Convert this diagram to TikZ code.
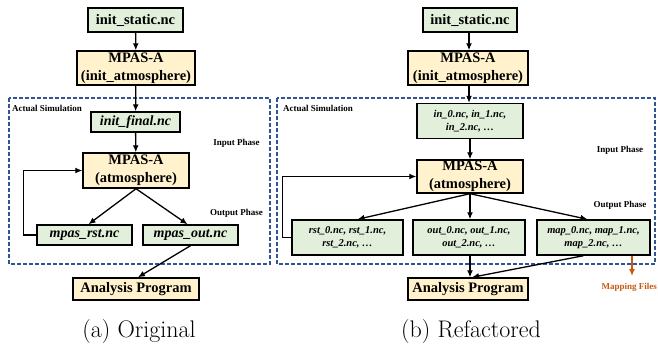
\documentclass[tikz,border=0pt]{standalone}
\usepackage{fontspec}
\newfontfamily\tnr{Liberation Serif}
\usetikzlibrary{arrows.meta,calc}
\definecolor{boxgreen}{HTML}{E2EFDA}
\definecolor{boxyellow}{HTML}{FFF2CC}
\definecolor{dashblue}{HTML}{2F5597}
\definecolor{maporange}{HTML}{C55A11}
\begin{document}
\begin{tikzpicture}[x=1pt,y=-1pt,
 box/.style={draw=black, line width=1.4pt, inner sep=0pt, align=center, font=\tnr\bfseries\fontsize{14.5}{18}\selectfont},
 gbox/.style={box, fill=boxgreen},
 ybox/.style={box, fill=boxyellow},
 fbox/.style={gbox, font=\tnr\bfseries\itshape\fontsize{14}{17}\selectfont},
 mbox/.style={gbox, font=\tnr\bfseries\itshape\fontsize{10.5}{12.5}\selectfont},
 arr/.style={-{Latex[length=7pt,width=6pt]}, line width=1.3pt},
 region/.style={draw=dashblue, line width=1.4pt, dash pattern=on 4pt off 2pt},
 lbl/.style={font=\tnr\bfseries\fontsize{9}{10}\selectfont, inner sep=0pt},
 captxt/.style={font=\fontsize{24}{28}\selectfont, inner sep=0pt}]
\useasboundingbox (0,0) rectangle (658,344);

% regions
\draw[region] (9,98) rectangle (270,264);
\draw[region] (277,98) rectangle (655,264);

% ---------- left panel ----------
\node[gbox, minimum width=95pt, minimum height=24pt] (s1) at (135.5,20) {init\_static.nc};
\node[ybox, minimum width=118pt, minimum height=34pt] (m1) at (136,68) {MPAS-A\\(init\_atmosphere)};
\node[fbox, minimum width=89pt, minimum height=20pt] (f1) at (135.5,122) {init\_final.nc};
\node[ybox, minimum width=106pt, minimum height=35pt] (a1) at (136,170.5) {MPAS-A\\(atmosphere)};
\node[fbox, minimum width=95pt, minimum height=20pt] (r1) at (84.5,235) {mpas\_rst.nc};
\node[fbox, minimum width=95pt, minimum height=20pt] (o1) at (190.5,235) {mpas\_out.nc};
\node[ybox, minimum width=126pt, minimum height=22pt] (p1) at (136,289) {Analysis Program};

\node[lbl, anchor=west] (as1) at (12,108) {Actual Simulation};
\node[lbl] (ip1) at (236.5,143) {Input Phase};
\node[lbl] (op1) at (236.5,213) {Output Phase};

\draw[arr] (s1) -- (m1);
\draw[arr] (m1) -- (f1);
\draw[arr] (f1) -- (a1);
\draw[arr] (a1.south) -- ([xshift=4pt]r1.north);
\draw[arr] (a1.south) -- ([xshift=-3pt]o1.north);
\draw[arr] (r1.west) -- ++(-13,0) |- (a1.west);
\draw[arr] (o1.south) -- ([xshift=2pt]p1.north);

% ---------- right panel ----------
\node[gbox, minimum width=94pt, minimum height=24pt] (s2) at (470,20) {init\_static.nc};
\node[ybox, minimum width=120pt, minimum height=34pt] (m2) at (468,68) {MPAS-A\\(init\_atmosphere)};
\node[mbox, minimum width=106pt, minimum height=35pt] (i2) at (470,121) {in\_0.nc, in\_1.nc,\\in\_2.nc, …};
\node[ybox, minimum width=106pt, minimum height=33pt] (a2) at (470,176.5) {MPAS-A\\(atmosphere)};
\node[mbox, minimum width=111pt, minimum height=35pt] (r2) at (347.5,237.5) {rst\_0.nc, rst\_1.nc,\\rst\_2.nc, …};
\node[mbox, minimum width=112pt, minimum height=35pt] (o2) at (469,237.5) {out\_0.nc, out\_1.nc,\\out\_2.nc, …};
\node[mbox, minimum width=113pt, minimum height=35pt] (mp2) at (593.5,237.5) {map\_0.nc, map\_1.nc,\\map\_2.nc, …};
\node[ybox, minimum width=120pt, minimum height=22pt] (p2) at (468,289) {Analysis Program};

\node[lbl, anchor=west] (as2) at (283,108) {Actual Simulation};
\node[lbl] (ip2) at (620,150) {Input Phase};
\node[lbl] (op2) at (620,205) {Output Phase};
\node[lbl, anchor=west, text=maporange] (mf) at (601.5,287) {Mapping Files};
\coordinate (mfend) at (632,276);

\draw[arr] (s2.south -| 469,0) -- (m2.north -| 469,0);
\draw[arr] (m2.south -| 469,0) -- (i2.north -| 469,0);
\draw[arr] (i2) -- (a2);
\draw[arr] (a2.south) -- ([xshift=10pt]r2.north);
\draw[arr] (a2.south) -- (a2.south |- o2.north);
\draw[arr] (a2.south) -- ([xshift=-6pt]mp2.north);
\draw[arr] (r2.west) -- ++(-9,0) |- (a2.west);
\draw[arr] (o2.south -| 470,0) -- (p2.north -| 470,0);
\draw[arr] ([xshift=-10pt]mp2.south) -- ([xshift=4pt]p2.north);
\draw[arr, draw=maporange, fill=maporange] (mp2.south -| mfend) -- (mfend);

% captions
\node[captxt] (ca) at (139,332) {(a) Original};
\node[captxt] (cb) at (471,332) {(b) Refactored};
\end{tikzpicture}
\end{document}
